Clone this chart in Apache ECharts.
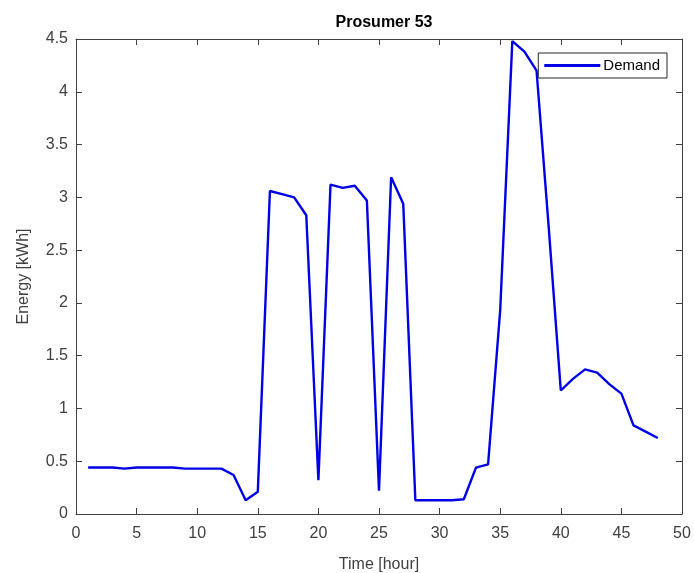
<!DOCTYPE html>
<html><head><meta charset="utf-8">
<script src="https://cdn.jsdelivr.net/npm/echarts@6/dist/echarts.min.js"></script>
<style>html,body{margin:0;padding:0;background:#fff}#c{width:694px;height:573px}</style>
</head><body><div id="c"></div>
<script>
const hours = [1,2,3,4,5,6,7,8,9,10,11,12,13,14,15,16,17,18,19,20,21,22,23,24,25,26,27,28,29,30,31,32,33,34,35,36,37,38,39,40,41,42,43,44,45,46,47,48];
const demand = [0.44,0.44,0.44,0.43,0.44,0.44,0.44,0.44,0.43,0.43,0.43,0.43,0.37,0.13,0.21,3.06,3.03,3.00,2.83,0.32,3.12,3.09,3.11,2.97,0.22,3.19,2.94,0.13,0.13,0.13,0.13,0.14,0.44,0.47,1.93,4.48,4.38,4.20,2.72,1.17,1.28,1.37,1.34,1.23,1.14,0.84,0.78,0.72];
const xTicks = [0,5,10,15,20,25,30,35,40,45,50];
const yTicks = [0,0.5,1,1.5,2,2.5,3,3.5,4,4.5];

const font = 'Liberation Sans, Arial, sans-serif';
const axisColor = '#404040';
const labelColor = '#404040';
const chart = echarts.init(document.getElementById('c'));
const grid = {left:76, right:12, top:39, bottom:59, outerBoundsMode:'none', containLabel:false};
chart.setOption({
  animation:false,
  title:{text:'Prosumer 53', left:379, top:10, textAlign:'center',
    textStyle:{fontFamily:font, fontSize:16, fontWeight:'bold', color:'#000'}},
  legend:{data:['Demand'], right:27, top:53, orient:'vertical',
    backgroundColor:'#fff', borderColor:'#262626', borderWidth:1, borderRadius:0,
    padding:[5,7,5,6], itemWidth:56, itemHeight:3, itemGap:0,
    textStyle:{fontFamily:font, fontSize:15, color:'#000', padding:[0,0,0,-2]},
    icon:'rect'},
  grid:grid,
  xAxis:[{type:'value', min:0, max:50, interval:5, position:'bottom',
    name:'Time [hour]', nameLocation:'middle', nameGap:43,
    nameTextStyle:{fontFamily:font, fontSize:16, color:labelColor},
    axisLine:{show:true, onZero:false, lineStyle:{color:axisColor, width:1}},
    axisTick:{show:true, inside:true, length:6, lineStyle:{color:axisColor}},
    axisLabel:{fontFamily:font, fontSize:16, color:labelColor, margin:12,
      formatter:v=>xTicks.includes(v)?String(v):''},
    splitLine:{show:false}},
   {type:'value', min:0, max:50, interval:5, position:'top',
    axisLine:{show:true, onZero:false, lineStyle:{color:axisColor, width:1}},
    axisTick:{show:true, inside:true, length:6, lineStyle:{color:axisColor}},
    axisLabel:{show:false}, splitLine:{show:false}}],
  yAxis:[{type:'value', min:0, max:4.5, interval:0.5, position:'left',
    name:'Energy [kWh]', nameLocation:'middle', nameGap:44,
    nameTextStyle:{fontFamily:font, fontSize:16, color:labelColor},
    axisLine:{show:true, onZero:false, lineStyle:{color:axisColor, width:1}},
    axisTick:{show:true, inside:true, length:6, lineStyle:{color:axisColor}},
    axisLabel:{fontFamily:font, fontSize:16, color:labelColor, margin:8,
      formatter:v=>{const t=yTicks.find(y=>Math.abs(y-v)<1e-9);return t===undefined?'':String(t);}},
    splitLine:{show:false}},
   {type:'value', min:0, max:4.5, interval:0.5, position:'right',
    axisLine:{show:true, onZero:false, lineStyle:{color:axisColor, width:1}},
    axisTick:{show:true, inside:true, length:6, lineStyle:{color:axisColor}},
    axisLabel:{show:false}, splitLine:{show:false}}],
  series:[{name:'Demand', type:'line', xAxisIndex:0, yAxisIndex:0,
    data:hours.map((h,i)=>[h,demand[i]]), showSymbol:false, symbol:'none',
    lineStyle:{color:'#0000e6', width:2.4}, itemStyle:{color:'#0000e6'}}]
});
</script></body></html>
